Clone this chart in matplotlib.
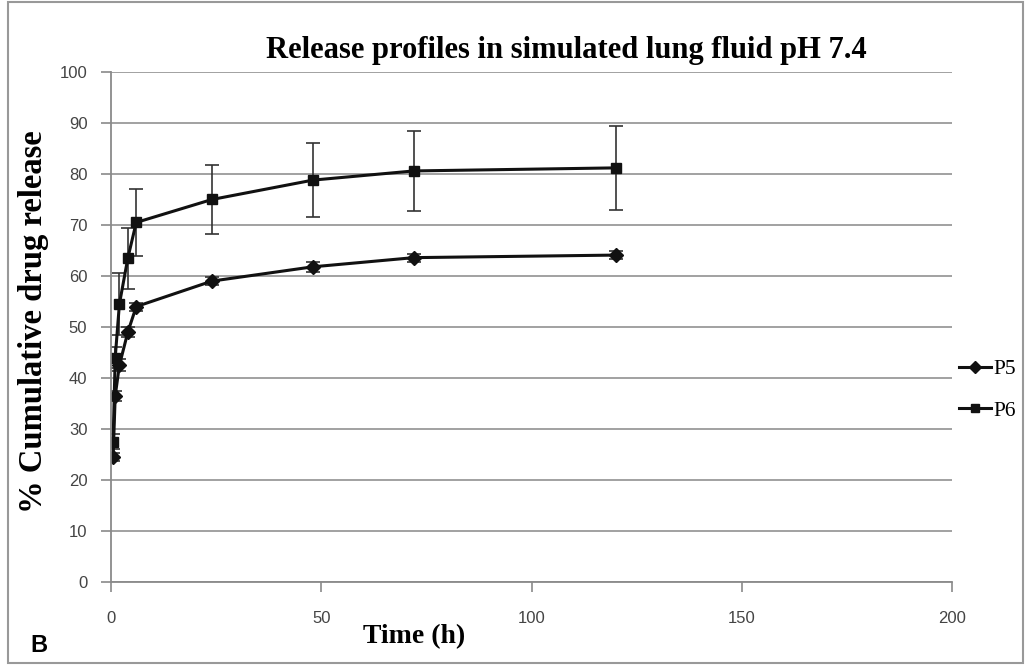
import matplotlib.pyplot as plt
from matplotlib.lines import Line2D
from matplotlib.patches import Rectangle

# data
time_h = [0.5, 1, 2, 4, 6, 24, 48, 72, 120]
p5 = [24.5, 36.5, 42.5, 49.0, 54.0, 59.0, 61.8, 63.6, 64.1]
p5_err = [0.8, 1.0, 1.2, 1.0, 0.8, 0.8, 1.0, 0.8, 0.8]
p6 = [27.5, 44.0, 54.5, 63.5, 70.5, 75.0, 78.8, 80.6, 81.2]
p6_err = [1.5, 2.0, 6.0, 6.0, 6.5, 6.7, 7.3, 7.8, 8.2]
yticks = [0, 10, 20, 30, 40, 50, 60, 70, 80, 90, 100]
xticks = [0, 50, 100, 150, 200]

serif = ['Liberation Serif', 'DejaVu Serif']
sans = ['Liberation Sans', 'DejaVu Sans']

fig = plt.figure(figsize=(10.31, 6.67), dpi=100)
ax = fig.add_axes([111/1031, 1-582/667, (952-111)/1031, (582-72)/667])

ax.errorbar(time_h, p6, yerr=p6_err, color='#111111', lw=2.2, marker='s', ms=7.5,
            ecolor='#333333', elinewidth=1.2, capsize=5, capthick=1.2)
ax.errorbar(time_h, p5, yerr=p5_err, color='#111111', lw=2.2, marker='D', ms=7,
            ecolor='#333333', elinewidth=1.2, capsize=5, capthick=1.2)

ax.set_xlim(0, 200)
ax.set_ylim(0, 100)
ax.set_xticks(xticks)
ax.set_yticks(yticks)
ax.grid(axis='y', color='#9a9a9a', lw=1.3)
ax.set_axisbelow(True)
for s in ['top', 'right']:
    ax.spines[s].set_visible(False)
for s in ['left', 'bottom']:
    ax.spines[s].set_color('#8a8a8a')
    ax.spines[s].set_linewidth(1.3)
ax.tick_params(axis='both', colors='#8a8a8a', labelcolor='#444444', labelsize=12, length=7, width=1.2)
ax.tick_params(axis='x', pad=14)
ax.tick_params(axis='y', pad=10)
for lab in ax.get_xticklabels() + ax.get_yticklabels():
    lab.set_family(sans)

ax.set_title('Release profiles in simulated lung fluid pH 7.4', family=serif,
             fontsize=22, fontweight='bold', x=0.542, pad=10)
ax.set_ylabel('% Cumulative drug release', family=serif, fontsize=23.5,
              fontweight='bold')
ax.yaxis.set_label_coords(-0.074, 0.51)
ax.set_xlabel('Time (h)', family=serif, fontsize=20, fontweight='bold')
ax.xaxis.set_label_coords(0.361, -0.082)

handles = [Line2D([], [], color='#111111', lw=2.2, marker='D', ms=6),
           Line2D([], [], color='#111111', lw=2.2, marker='s', ms=6)]
fig.legend(handles, ['P5', 'P6'], loc='center left', bbox_to_anchor=(0.922, 0.415),
           frameon=False, prop={'family': serif, 'size': 15.5}, handlelength=1.5,
           handletextpad=0.1, labelspacing=1.0, borderaxespad=0)

fig.text(30/1031, 1-645/667, 'B', family=sans, fontsize=17, fontweight='bold', va='center')
fig.patches.append(Rectangle((8/1031, 4/667), 1-16/1031, 1-6/667, transform=fig.transFigure,
                             fill=False, edgecolor='#999999', lw=1.5))

fig.savefig('out.png', dpi=100)
